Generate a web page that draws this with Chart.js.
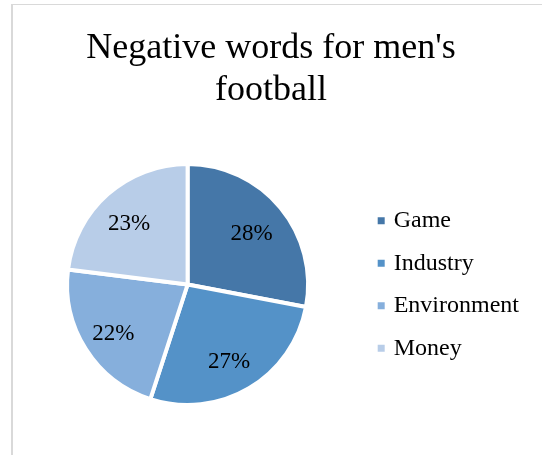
<!DOCTYPE html>
<html>
<head>
<meta charset="utf-8">
<script src="https://cdn.jsdelivr.net/npm/chart.js@4/dist/chart.umd.min.js"></script>
<style>
  body { margin: 0; background: #fff; }
  #wrap { position: relative; width: 542px; height: 455px; overflow: hidden; }
  #frame { position: absolute; left: 11px; top: 4px; width: 600px; height: 500px;
           border-left: 2px solid #d9d9d9; border-top: 1px solid #d9d9d9; }
  #myChart { position: absolute; left: 0; top: 0; }
</style>
</head>
<body>
<div id="wrap">
  <div id="frame"></div>
  <canvas id="myChart" width="542" height="455"></canvas>
</div>
<script>
let labels = ["Game", "Industry", "Environment", "Money"];
let shares = [28, 27, 22, 23];
let colors = ["#4577a8", "#5492c8", "#86afdc", "#b8cde8"];

const serif = '"Liberation Serif", "Times New Roman", serif';

// percent text inside each slice
let sliceLabels = {
  id: 'sliceLabels',
  afterDatasetsDraw(chart) {
    let ctx = chart.ctx;
    let meta = chart.getDatasetMeta(0);
    let size = 23;
    ctx.save();
    ctx.font = size + 'px ' + serif;
    ctx.fillStyle = '#000';
    ctx.textAlign = 'center';
    ctx.textBaseline = 'alphabetic';
    meta.data.forEach((arc, i) => {
      let p = arc.getProps(['x', 'y', 'startAngle', 'endAngle', 'outerRadius'], true);
      let mid = (p.startAngle + p.endAngle) / 2;
      let r = p.outerRadius * 0.71;
      let x = p.x - 2 + Math.cos(mid) * r;
      let y = p.y + 2 + Math.sin(mid) * r;
      ctx.fillText(shares[i] + '%', x, y + size * 0.34);
    });
    ctx.restore();
  }
};

let ctx = document.getElementById("myChart");
let myChart = new Chart(ctx, {
  type: 'pie',
  data: {
    labels: labels,
    datasets: [{
      data: shares,
      backgroundColor: colors,
      borderColor: '#fff',
      borderWidth: 4
    }]
  },
  options: {
    responsive: false,
    animation: false,
    layout: { padding: { left: 13, right: 13, top: 0, bottom: 48 } },
    plugins: {
      title: {
        display: true,
        text: ["Negative words for men's", "football"],
        color: '#000',
        font: { family: serif, size: 36, weight: 'normal', lineHeight: 1.1667 },
        padding: { top: 28, bottom: 50 }
      },
      legend: {
        position: 'right',
        fullSize: false,
        labels: {
          usePointStyle: true,
          pointStyle: 'rect',
          boxWidth: 1,
          boxHeight: 7,
          padding: 18.5,
          color: '#000',
          font: { family: serif, size: 24 },
          generateLabels(chart) {
            let items = Chart.overrides.pie.plugins.legend.labels.generateLabels(chart);
            // plain squares, no white outline
            return items.map(it => Object.assign(it, { lineWidth: 0, pointStyle: 'rect' }));
          }
        }
      },
      tooltip: { enabled: false }
    }
  },
  plugins: [sliceLabels]
});
</script>
</body>
</html>
